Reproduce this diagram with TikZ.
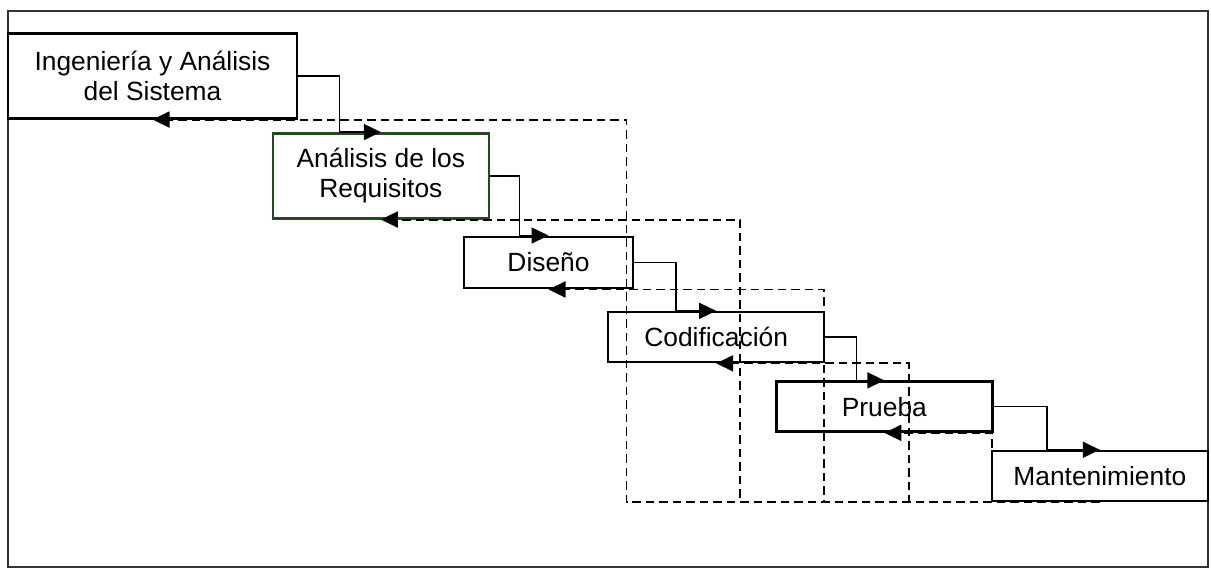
\documentclass[tikz,border=0pt]{standalone}
\usepackage{fontspec}
\setmainfont{Liberation Sans}
\usetikzlibrary{arrows.meta}
\definecolor{verde}{RGB}{35,75,30}
\begin{document}
\begin{tikzpicture}[font=\fontsize{15}{17.2}\selectfont,
caja/.style={draw,line width=1.4pt,minimum width=4.32cm,minimum height=1cm,align=center,inner sep=0pt},
ida/.style={line width=0.9pt,-{Triangle[length=0.34cm,width=0.32cm]}},
vuelta/.style={ida,line width=1.1pt,dash pattern=on 0.17cm off 0.1cm}]
\useasboundingbox (0,0) rectangle (24.22,-11.4);
\draw[line width=1.3pt,black!80] (0.166,-0.22) rectangle (24.16,-11.334);
\node[caja,minimum width=5.77cm,minimum height=1.7cm] (ing) at (3.05,-1.516) {Ingeniería y Análisis\\del Sistema};
\node[caja,draw=verde,minimum height=1.7cm] (req) at (7.617,-3.516) {Análisis de los\\Requisitos};
\node[caja,minimum width=3.38cm,minimum height=1.03cm] (dis) at (10.97,-5.25) {Diseño};
\node[caja] (cod) at (14.323,-6.742) {Codificación};
\node[caja] (pru) at (17.687,-8.132) {Prueba};
\node[caja] (man) at (21.997,-9.52) {Mantenimiento};
\foreach \a/\b/\d in {ing/req/0.83,req/dis/0.59,dis/cod/0.83,cod/pru/0.62,pru/man/1.07}
  {\draw[ida] (\a.east) -- ++(\d,0) |- (\b.north);}
\foreach \b/\d in {ing/9.48,req/7.18,dis/5.51,cod/3.86,pru/2.16}
  {\draw[vuelta] (man.south) -| ([xshift=\d cm]\b.south) -- (\b.south);}
\end{tikzpicture}
\end{document}
